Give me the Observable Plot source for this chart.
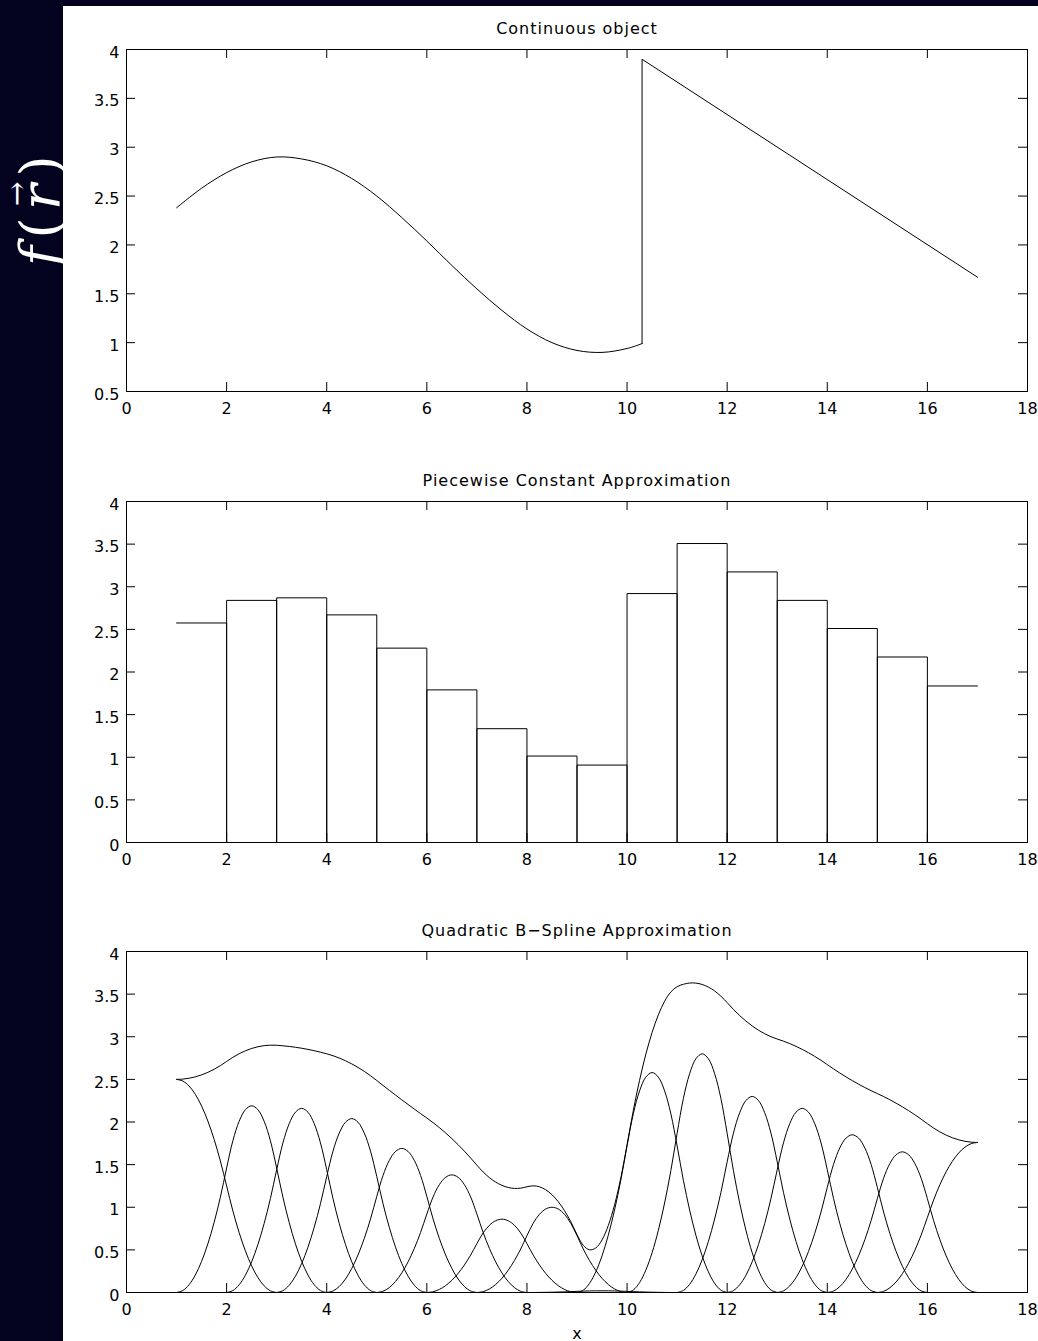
<!DOCTYPE html>
<html><head><meta charset="utf-8">
<script src="https://cdn.jsdelivr.net/npm/d3@7"></script>
<script src="https://cdn.jsdelivr.net/npm/@observablehq/plot@0.6"></script>
<style>
html,body{margin:0;padding:0}
body{width:1038px;height:1341px;background:#03031f;position:relative;overflow:hidden;font-family:"DejaVu Sans",sans-serif}
#panel{position:absolute;left:63px;top:6px;width:975px;height:1335px;background:#fff;z-index:1}
.plot{position:absolute;left:63px;z-index:2}
#ylab{position:absolute;left:41px;top:207px;transform:translate(-50%,-50%) rotate(-90deg);color:#fff;font-family:"DejaVu Serif",serif;font-size:54px;white-space:nowrap;z-index:0;line-height:1;letter-spacing:0.14em}
.vec{position:relative;display:inline-block}
.vec .arr{position:absolute;left:0.12em;top:-0.42em;font-size:0.55em;font-style:normal;letter-spacing:0}
</style></head>
<body>
<div id="ylab"><i>f</i>(<span class="vec"><i>r</i><span class="arr">→</span></span>)</div>
<div id="panel"></div>
<div id="p1" class="plot" style="top:6px"></div>
<div id="p2" class="plot" style="top:458px"></div>
<div id="p3" class="plot" style="top:908px"></div>
<script>
// ---------- data ----------
const X_TICKS = [0, 2, 4, 6, 8, 10, 12, 14, 16, 18];
const Y_TICKS_TOP = [0.5, 1, 1.5, 2, 2.5, 3, 3.5, 4];
const Y_TICKS = [0, 0.5, 1, 1.5, 2, 2.5, 3, 3.5, 4];
const TITLES = ["Continuous object", "Piecewise Constant Approximation", "Quadratic B\u2212Spline Approximation"];
const X_LABEL = "x";

// Panel 1: continuous object (smooth part, then jump and linear ramp)
const smoothX = [1, 1.5, 2, 2.5, 3, 3.5, 4, 4.5, 5, 5.5, 6, 6.5, 7, 7.5, 8, 8.5, 9, 9.5, 10, 10.3];
const smoothY = [2.38, 2.58, 2.74, 2.85, 2.90, 2.88, 2.81, 2.68, 2.50, 2.28, 2.04, 1.79, 1.55, 1.33, 1.14, 1.00, 0.92, 0.90, 0.94, 0.99];
const rampX = [10.3, 10.3, 17];
const rampY = [0.99, 3.9, 1.67];

// Panel 2: piecewise constant levels on unit cells
const pcEdges = [1, 2, 3, 4, 5, 6, 7, 8, 9, 10, 11, 12, 13, 14, 15, 16, 17];
const pcValues = [2.575, 2.84, 2.87, 2.67, 2.28, 1.79, 1.335, 1.014, 0.908, 2.92, 3.507, 3.174, 2.84, 2.51, 2.176, 1.836];

// Panel 3: quadratic B-spline basis bumps
const bumpCenters = [2.5, 3.5, 4.5, 5.5, 6.5, 7.5, 8.5, 9.5, 10.5, 11.5, 12.5, 13.5, 14.5, 15.5];
const bumpPeaks = [2.19, 2.16, 2.04, 1.69, 1.38, 0.86, 1.00, 0.02, 2.58, 2.80, 2.30, 2.16, 1.85, 1.65];
const bumpOffsets = [-1.5, -1.375, -1.25, -1.125, -1, -0.875, -0.75, -0.625, -0.5, -0.375, -0.25, -0.125, 0,
  0.125, 0.25, 0.375, 0.5, 0.625, 0.75, 0.875, 1, 1.125, 1.25, 1.375, 1.5];
const bumpProfile = [0, 0.0104, 0.0417, 0.0938, 0.1667, 0.2604, 0.375, 0.5104, 0.6667, 0.8125, 0.9167, 0.9792, 1,
  0.9792, 0.9167, 0.8125, 0.6667, 0.5104, 0.375, 0.2604, 0.1667, 0.0938, 0.0417, 0.0104, 0];
const edgeCenters = [1, 17];
const edgeHeights = [2.50, 1.76];
const edgeDirections = [1, -1];
const edgeOffsets = [0, 0.125, 0.25, 0.375, 0.5, 0.625, 0.75, 0.875, 1, 1.125, 1.25, 1.375, 1.5, 1.625, 1.75, 1.875, 2];
const edgeProfile = [1, 0.9922, 0.9688, 0.9297, 0.875, 0.8047, 0.7188, 0.6172, 0.5, 0.3828, 0.2813, 0.1953, 0.125, 0.0703, 0.0313, 0.0078, 0];

// ---------- layout ----------
const W = 975, ML = 63, MR = 11, MT = 43;
const FW = W - ML - MR;
const TICK = 9;
const FONT = 16;

function axesMarks(yTicks, innerH) {
  return [
    Plot.frame({stroke: "black", strokeWidth: 1}),
    Plot.tickX(X_TICKS, {x: d => d, insetTop: innerH - TICK, stroke: "black", strokeWidth: 1}),
    Plot.tickX(X_TICKS, {x: d => d, insetBottom: innerH - TICK, stroke: "black", strokeWidth: 1}),
    Plot.tickY(yTicks, {y: d => d, insetRight: FW - TICK, stroke: "black", strokeWidth: 1}),
    Plot.tickY(yTicks, {y: d => d, insetLeft: FW - TICK, stroke: "black", strokeWidth: 1}),
    Plot.text(X_TICKS, {x: d => d, frameAnchor: "bottom", lineAnchor: "top", dy: 11, text: d => String(d), fontSize: FONT, fill: "black"}),
    Plot.text(yTicks, {y: d => d, frameAnchor: "left", textAnchor: "end", dx: -7, dy: 3, text: d => String(d), fontSize: FONT, fill: "black"})
  ];
}
function titleMark(t) {
  return Plot.text([t], {text: d => d, frameAnchor: "top", lineAnchor: "middle", dy: -21, fontSize: FONT, fill: "black"});
}
function spaceTitles(chart) {
  chart.querySelectorAll("text").forEach(t => {
    if (TITLES.includes(t.textContent)) t.style.letterSpacing = "1px";
  });
  return chart;
}
const style = {fontFamily: "'DejaVu Sans', sans-serif", fontSize: FONT + "px", background: "transparent", overflow: "visible", color: "black"};

// ---------- panel 1 ----------
const smoothPts = smoothX.map((x, i) => ({x, y: smoothY[i]}));
const rampPts = rampX.map((x, i) => ({x, y: rampY[i]}));
{
  const H = 433, MB = 48, innerH = H - MT - MB;
  const chart = Plot.plot({
    width: W, height: H, marginLeft: ML, marginRight: MR, marginTop: MT, marginBottom: MB,
    x: {domain: [0, 18], axis: null}, y: {domain: [0.5, 4], axis: null},
    style,
    marks: [
      ...axesMarks(Y_TICKS_TOP, innerH),
      Plot.line(smoothPts, {x: "x", y: "y", curve: "catmull-rom", stroke: "black", strokeWidth: 1}),
      Plot.line(rampPts, {x: "x", y: "y", stroke: "black", strokeWidth: 1}),
      titleMark(TITLES[0])
    ]
  });
  document.getElementById("p1").appendChild(spaceTitles(chart));
}

// ---------- panel 2 ----------
const pcRows = [];
const lastIdx = pcValues.length - 1;
pcValues.forEach((v, i) => {
  const a = pcEdges[i], b = pcEdges[i + 1];
  const pts = i === 0 ? [[a, v], [b, v], [b, 0]]
    : i === lastIdx ? [[a, 0], [a, v], [b, v]]
    : [[a, 0], [a, v], [b, v], [b, 0]];
  pts.forEach(([x, y]) => pcRows.push({x, y, seg: "s" + i}));
});
pcRows.push({x: pcEdges[0], y: 0, seg: "base"}, {x: pcEdges[pcEdges.length - 1], y: 0, seg: "base"});
{
  const H = 432, MB = 48, innerH = H - MT - MB;
  const chart = Plot.plot({
    width: W, height: H, marginLeft: ML, marginRight: MR, marginTop: MT, marginBottom: MB,
    x: {domain: [0, 18], axis: null}, y: {domain: [0, 4], axis: null},
    style,
    marks: [
      ...axesMarks(Y_TICKS, innerH),
      Plot.line(pcRows, {x: "x", y: "y", z: "seg", stroke: "black", strokeWidth: 1}),
      titleMark(TITLES[1])
    ]
  });
  document.getElementById("p2").appendChild(spaceTitles(chart));
}

// ---------- panel 3 ----------
const basisRows = [];
bumpCenters.forEach((c, j) => {
  bumpOffsets.forEach((o, k) => basisRows.push({x: c + o, y: bumpPeaks[j] * bumpProfile[k], id: "b" + j}));
});
edgeCenters.forEach((c, j) => {
  edgeOffsets.forEach((o, k) => basisRows.push({x: c + edgeDirections[j] * o, y: edgeHeights[j] * edgeProfile[k], id: "e" + j}));
});
const sumMap = d3.rollup(basisRows, v => d3.sum(v, d => d.y), d => Math.round(d.x * 1000) / 1000);
const sumRows = Array.from(sumMap, ([x, y]) => ({x, y})).sort((a, b) => a.x - b.x);
const baseRows = [{x: pcEdges[0], y: 0}, {x: pcEdges[pcEdges.length - 1], y: 0}];
{
  const H = 433, MB = 49, innerH = H - MT - MB;
  const chart = Plot.plot({
    width: W, height: H, marginLeft: ML, marginRight: MR, marginTop: MT, marginBottom: MB,
    x: {domain: [0, 18], axis: null}, y: {domain: [0, 4], axis: null},
    style,
    marks: [
      ...axesMarks(Y_TICKS, innerH),
      Plot.line(baseRows, {x: "x", y: "y", stroke: "black", strokeWidth: 1}),
      Plot.line(basisRows, {x: "x", y: "y", z: "id", curve: "catmull-rom", stroke: "black", strokeWidth: 1}),
      Plot.line(sumRows, {x: "x", y: "y", curve: "catmull-rom", stroke: "black", strokeWidth: 1}),
      titleMark(TITLES[2]),
      Plot.text([X_LABEL], {text: d => d, frameAnchor: "bottom", lineAnchor: "middle", dy: 41, fontSize: FONT, fill: "black"})
    ]
  });
  document.getElementById("p3").appendChild(spaceTitles(chart));
}
</script>
</body></html>
